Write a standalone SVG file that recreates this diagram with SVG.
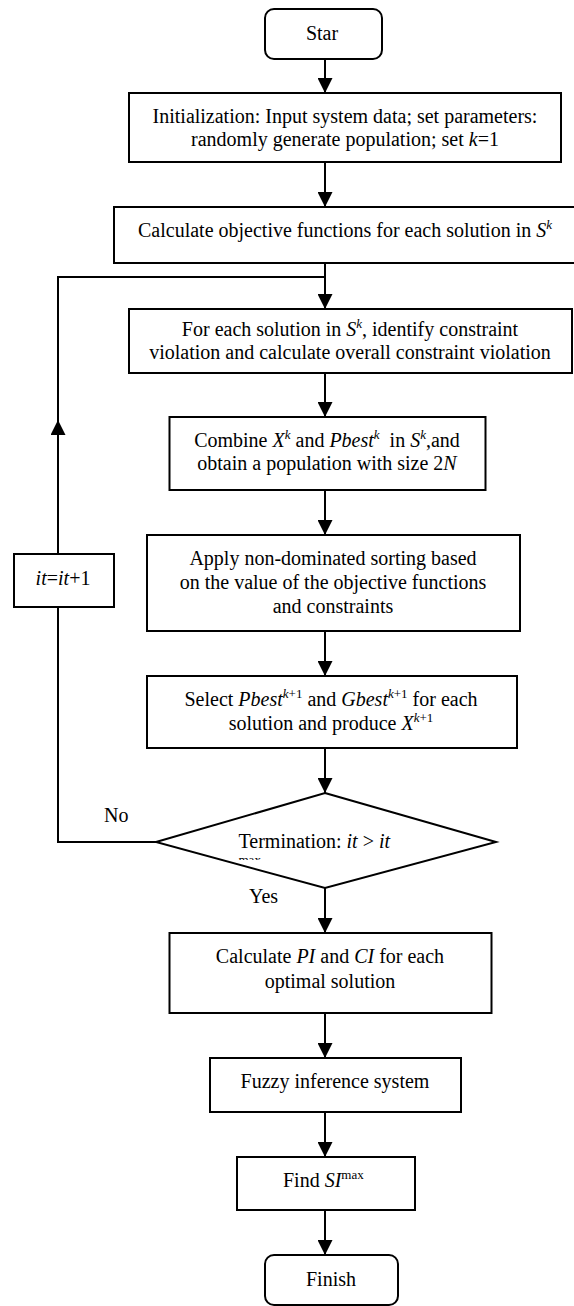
<svg xmlns="http://www.w3.org/2000/svg" width="574" height="1306" viewBox="0 0 574 1306">
<style>
.box{fill:#fff;stroke:#000;stroke-width:2}
.ln{fill:none;stroke:#000;stroke-width:2}
text{font-family:"Liberation Serif","Times New Roman",serif;font-size:20px;fill:#000}
.c{text-anchor:middle}
.i{font-style:italic}
.sup{font-size:13px}
</style>
<defs>
<marker id="ah" viewBox="0 0 15 15" markerWidth="15" markerHeight="15" refX="15" refY="7.5" orient="auto" markerUnits="userSpaceOnUse">
<path d="M0,0 L15,7.5 L0,15 z" fill="#000"/>
</marker>
<clipPath id="cutmax"><rect x="200" y="850" width="200" height="10"/></clipPath>
</defs>
<rect width="574" height="1306" fill="#fff"/>
<g id="connectors">
<line class="ln" x1="325" y1="59" x2="325" y2="93" marker-end="url(#ah)"/>
<line class="ln" x1="325" y1="162" x2="325" y2="207" marker-end="url(#ah)"/>
<line class="ln" x1="325" y1="263" x2="325" y2="309" marker-end="url(#ah)"/>
<line class="ln" x1="325" y1="373" x2="325" y2="417" marker-end="url(#ah)"/>
<line class="ln" x1="325" y1="490" x2="325" y2="535" marker-end="url(#ah)"/>
<line class="ln" x1="325" y1="631" x2="325" y2="676" marker-end="url(#ah)"/>
<line class="ln" x1="325" y1="748" x2="325" y2="793" marker-end="url(#ah)"/>
<line class="ln" x1="325" y1="888" x2="325" y2="933" marker-end="url(#ah)"/>
<line class="ln" x1="325" y1="1013" x2="325" y2="1058" marker-end="url(#ah)"/>
<line class="ln" x1="325" y1="1112" x2="325" y2="1157" marker-end="url(#ah)"/>
<line class="ln" x1="325" y1="1210" x2="325" y2="1255" marker-end="url(#ah)"/>
<polyline class="ln" points="156,842 58,842 58,607"/>
<line class="ln" x1="58" y1="554" x2="58" y2="420" marker-end="url(#ah)"/>
<polyline class="ln" points="58,421 58,277 325,277"/>
<text x="104" y="822">No</text>
<text x="249" y="903">Yes</text>
</g>
<g id="start">
<rect class="box" x="265" y="9" width="117" height="50" rx="9"/>
<text class="c" x="322" y="40">Star</text>
</g>
<g id="init">
<rect class="box" x="129" y="93" width="432" height="69"/>
<text class="c" x="345" y="123">Initialization: Input system data; set parameters:</text>
<text class="c" x="345" y="146">randomly generate population; set <tspan class="i">k</tspan>=1</text>
</g>
<g id="calcobj">
<rect class="box" x="114" y="207" width="470" height="56"/>
<text class="c" x="345" y="237">Calculate objective functions for each solution in <tspan class="i">S</tspan><tspan class="i sup" dy="-8">k</tspan></text>
</g>
<g id="constraint">
<rect class="box" x="129" y="309" width="443" height="64"/>
<text class="c" x="350" y="336">For each solution in <tspan class="i">S</tspan><tspan class="i sup" dy="-8">k</tspan><tspan dy="8">, identify constraint</tspan></text>
<text class="c" x="350" y="359">violation and calculate overall constraint violation</text>
</g>
<g id="combine">
<rect class="box" x="169.5" y="417" width="316" height="73"/>
<text class="c" x="327" y="447">Combine <tspan class="i">X</tspan><tspan class="i sup" dy="-8">k</tspan><tspan dy="8"> and </tspan><tspan class="i">Pbest</tspan><tspan class="i sup" dy="-8">k</tspan><tspan dy="8" xml:space="preserve">  in </tspan><tspan class="i">S</tspan><tspan class="i sup" dy="-8">k</tspan><tspan dy="8">,and</tspan></text>
<text class="c" x="327" y="470">obtain a population with size 2<tspan class="i">N</tspan></text>
</g>
<g id="sorting">
<rect class="box" x="147" y="535" width="373" height="96"/>
<text class="c" x="333" y="565">Apply non-dominated sorting based</text>
<text class="c" x="333" y="589">on the value of the objective functions</text>
<text class="c" x="333" y="613">and constraints</text>
</g>
<g id="increment">
<rect class="box" x="14" y="554" width="100" height="53"/>
<text class="c" x="63" y="585"><tspan class="i">it</tspan>=<tspan class="i">it</tspan>+1</text>
</g>
<g id="select">
<rect class="box" x="147" y="676" width="370" height="72"/>
<text class="c" x="331" y="706">Select <tspan class="i">Pbest</tspan><tspan class="sup" dy="-8"><tspan class="i">k</tspan>+1</tspan><tspan dy="8"> and </tspan><tspan class="i">Gbest</tspan><tspan class="sup" dy="-8"><tspan class="i">k</tspan>+1</tspan><tspan dy="8"> for each</tspan></text>
<text class="c" x="331" y="730">solution and produce <tspan class="i">X</tspan><tspan class="sup" dy="-8"><tspan class="i">k</tspan>+1</tspan></text>
</g>
<g id="termination">
<polygon class="box" points="325,793 496,842 325,888 156,842"/>
<text x="238.5" y="848">Termination: <tspan class="i">it</tspan> &gt; <tspan class="i">it</tspan></text>
<text class="sup" x="238.5" y="864" clip-path="url(#cutmax)">max</text>
</g>
<g id="calcpi">
<rect class="box" x="169.5" y="933" width="322" height="80"/>
<text class="c" x="330" y="963">Calculate <tspan class="i">PI</tspan> and <tspan class="i">CI</tspan> for each</text>
<text class="c" x="330" y="988">optimal solution</text>
</g>
<g id="fuzzy">
<rect class="box" x="210" y="1058" width="251" height="54"/>
<text class="c" x="335" y="1088">Fuzzy inference system</text>
</g>
<g id="findsi">
<rect class="box" x="237" y="1157" width="178" height="53"/>
<text x="283" y="1187">Find <tspan class="i">SI</tspan><tspan class="sup" dy="-8">max</tspan></text>
</g>
<g id="finish">
<rect class="box" x="265" y="1255" width="133" height="50" rx="9"/>
<text class="c" x="331" y="1286">Finish</text>
</g>
</svg>
